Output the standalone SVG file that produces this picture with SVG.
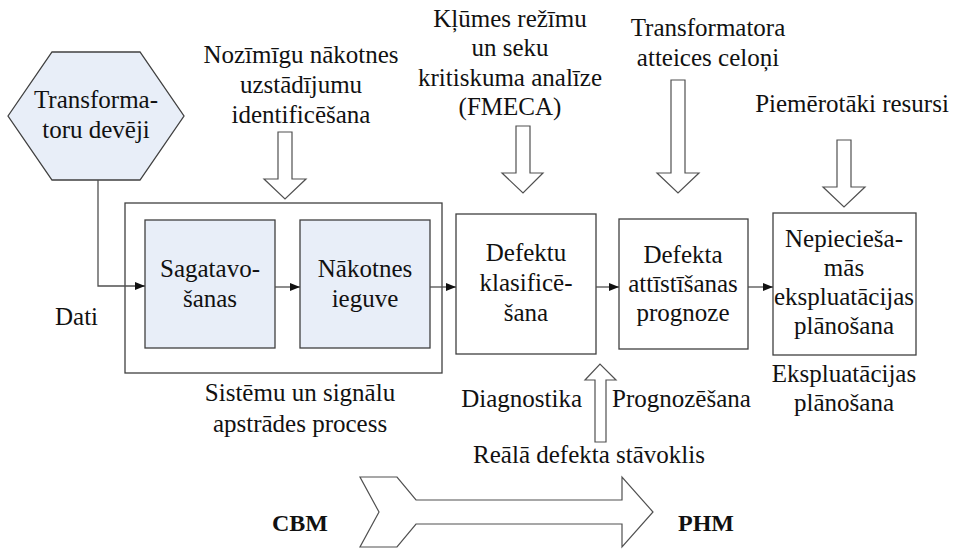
<svg xmlns="http://www.w3.org/2000/svg" width="955" height="549" viewBox="0 0 955 549">
  <style>
    text { font-size: 25px; fill: #111; text-anchor: middle; }
    .bold { font-weight: bold; font-size: 24px; }
    .start { text-anchor: start; }
    .end { text-anchor: end; }
    .box { fill: #ffffff; stroke: #404040; stroke-width: 1.3; }
    .blue { fill: #e8eef8; stroke: #404040; stroke-width: 1.3; }
    .line { fill: none; stroke: #505050; stroke-width: 1.3; }
    .hollow { fill: #ffffff; stroke: #505050; stroke-width: 1.2; stroke-linejoin: miter; }
  </style>
  <defs>
    <marker id="tri" markerWidth="10" markerHeight="8" refX="10" refY="4" orient="auto" markerUnits="userSpaceOnUse">
      <path d="M0,0 L10,4 L0,8 Z" fill="#111"/>
    </marker>
  </defs>

  <rect width="955" height="549" fill="#ffffff"/>

  <g font-family="Liberation Serif, DejaVu Serif, serif">
  <!-- data source -->
  <g id="source">
    <polygon class="blue" points="8,116 52,52 140,52 184,116 140,180 52,180"/>
    <text x="96" y="108">Transforma-</text>
    <text x="96" y="138">toru devēji</text>
  </g>

  <!-- signal processing group -->
  <g id="processing">
    <rect class="box" x="125" y="203" width="317" height="170"/>
    <text x="300" y="401">Sistēmu un signālu</text>
    <text x="300" y="432">apstrādes process</text>
  </g>
  <g id="prep">
    <rect class="blue" x="145" y="220" width="130" height="128"/>
    <text x="210" y="277">Sagatavo-</text>
    <text x="210" y="307">šanas</text>
  </g>
  <g id="extract">
    <rect class="blue" x="300" y="220" width="130" height="128"/>
    <text x="365" y="277">Nākotnes</text>
    <text x="365" y="307">ieguve</text>
  </g>
  <g id="classify">
    <rect class="box" x="456" y="214" width="140" height="140"/>
    <text x="526" y="261">Defektu</text>
    <text x="526" y="291">klasificē-</text>
    <text x="526" y="321">šana</text>
  </g>
  <g id="forecast">
    <rect class="box" x="619" y="219" width="129" height="130"/>
    <text x="683" y="263">Defekta</text>
    <text x="683" y="292">attīstīšanas</text>
    <text x="683" y="321">prognoze</text>
  </g>
  <g id="planning">
    <rect class="box" x="773" y="213" width="143" height="142"/>
    <text x="844" y="247">Nepiecieša-</text>
    <text x="844" y="276">mās</text>
    <text x="844" y="305">ekspluatācijas</text>
    <text x="844" y="334">plānošana</text>
    <text x="844" y="382">Ekspluatācijas</text>
    <text x="844" y="411">plānošana</text>
  </g>

  <!-- inputs from above -->
  <g id="input-features">
    <text x="301" y="63">Nozīmīgu nākotnes</text>
    <text x="301" y="93">uzstādījumu</text>
    <text x="301" y="123">identificēšana</text>
    <polygon class="hollow" points="278,132 292,132 292,179 306,179 285,199 264,179 278,179"/>
  </g>
  <g id="input-fmeca">
    <text x="510" y="27">Kļūmes režīmu</text>
    <text x="510" y="56">un seku</text>
    <text x="510" y="86">kritiskuma analīze</text>
    <text x="510" y="115">(FMECA)</text>
    <polygon class="hollow" points="516,126 530,126 530,173 543,173 523,193 502,173 516,173"/>
  </g>
  <g id="input-causes">
    <text x="708" y="36">Transformatora</text>
    <text x="708" y="66">atteices celoņi</text>
    <polygon class="hollow" points="671,80 685,80 685,173 699,173 678,193 657,173 671,173"/>
  </g>
  <g id="input-resources">
    <text x="852" y="112">Piemērotāki resursi</text>
    <polygon class="hollow" points="837,140 851,140 851,187 865,187 844,207 823,187 837,187"/>
  </g>
  <g id="input-state">
    <polygon class="hollow" points="595,442 606,442 606,380 616,380 600,364 585,380 595,380"/>
    <text class="end" x="582" y="407">Diagnostika</text>
    <text class="start" x="612" y="407">Prognozēšana</text>
    <text x="589" y="463">Reālā defekta stāvoklis</text>
  </g>

  <!-- CBM to PHM transition -->
  <g id="transition">
    <polygon class="hollow" points="360,477 397,477 416,500 622,500 622,477 653,512 622,547 622,524 416,524 397,547 360,547 379,512"/>
    <text class="bold" x="300" y="531">CBM</text>
    <text class="bold" x="706" y="531">PHM</text>
  </g>

  <!-- connectors -->
  <g id="connectors">
    <polyline class="line" points="98,180 98,286 145,286" marker-end="url(#tri)"/>
    <text class="start" x="55" y="325">Dati</text>
    <line class="line" x1="275" y1="287" x2="300" y2="287" marker-end="url(#tri)"/>
    <line class="line" x1="430" y1="287" x2="456" y2="287" marker-end="url(#tri)"/>
    <line class="line" x1="596" y1="287" x2="619" y2="287" marker-end="url(#tri)"/>
    <line class="line" x1="748" y1="287" x2="773" y2="287" marker-end="url(#tri)"/>
  </g>
  </g>
</svg>
